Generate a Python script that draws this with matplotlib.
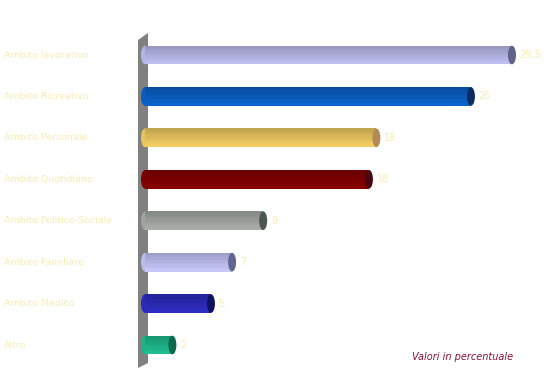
import numpy as np
import matplotlib.pyplot as plt
from matplotlib.patches import Ellipse, Polygon
from matplotlib.colors import to_rgb

categories = ['Ambito lavorativo', 'Ambito Ricreativo', 'Ambito Personale', 'Ambito Quotidiano',
              'Ambito Politico-Sociale', 'Ambito Familiare', 'Ambito Medico', 'Altro']
values = [29.5, 26.2, 18.6, 18.0, 9.5, 7.0, 5.3, 2.2]
value_labels = ['29,5', '26', '18', '18', '9', '7', '5', '2']
body_colors = ['#b4b4e4', '#0a5cc0', '#e6c45e', '#7e0000', '#a0a49e', '#bcbcec', '#2a2ab8', '#1eb488']
cap_colors = ['#5e6488', '#0c2c60', '#b68a56', '#4a0610', '#4e5650', '#606690', '#0e1260', '#0c6a4c']

W, H = 546, 383
fig = plt.figure(figsize=(W / 100, H / 100), dpi=100)
fig.patch.set_facecolor('white')

# axes: value 0 at x=145px, 12.44 px per unit; rows centred at 55px .. 345px
x0 = 145
px_unit = 12.44
ax = fig.add_axes([x0 / W, 0, 1 - x0 / W, 1])
ax.set_xlim(0, (W - x0) / px_unit)
step = (345 - 55) / 7
ax.set_ylim(7 + (H - 345) / step, -55 / step)
ax.axis('off')
ax.set_zorder(1)

# grey wall behind the bars
wall = [(138, 40), (148, 33), (148, 363), (138, 368)]
fig.add_artist(Polygon([(x / W, 1 - y / H) for x, y in wall], closed=True,
                       facecolor='#808080', edgecolor='none', transform=fig.transFigure, zorder=0))

bh = 0.45
cap_w = 8 / px_unit
nb = 8
shade = np.linspace(0.84, 1.06, nb)
for i, v in enumerate(values):
    base = np.array(to_rgb(body_colors[i]))
    # cylinder shading: darker on top, lighter below
    for k in range(nb):
        yc = i - bh / 2 + (k + 0.5) * bh / nb
        ax.barh(yc, v, height=bh / nb + 0.005, color=np.clip(base * shade[k], 0, 1),
                linewidth=0, zorder=2)
    ax.add_patch(Ellipse((0, i), cap_w, bh, facecolor=base, edgecolor='none', zorder=1,
                         clip_on=False))
    ax.add_patch(Ellipse((v, i), cap_w, bh, facecolor=cap_colors[i], edgecolor='none', zorder=3))
    ax.text(v + cap_w / 2 + 0.3, i, value_labels[i], color='#f6eeb0', fontsize=7,
            va='center', ha='left')

for i, c in enumerate(categories):
    fig.text(4 / W, 1 - (55 + i * step) / H, c, color='#f6eeb0', fontsize=6.8,
             va='center', ha='left')

fig.text(412 / W, 1 - 357 / H, 'Valori in percentuale', color='#8c1030', fontsize=7,
         style='italic', va='center', ha='left')

fig.savefig('out.png', dpi=100)
